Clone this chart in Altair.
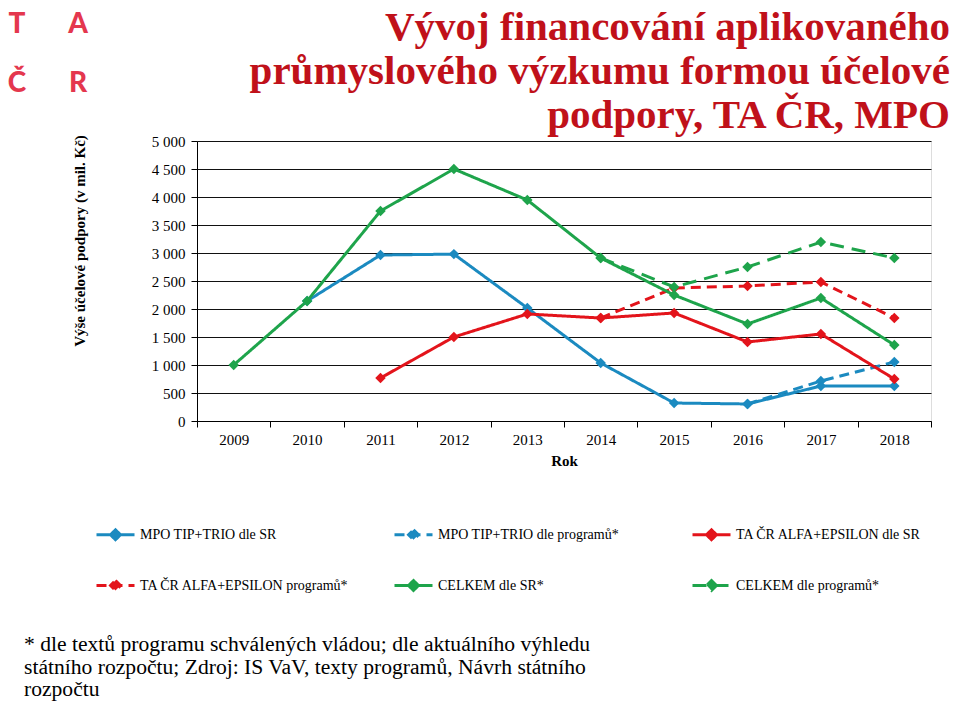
import altair as alt
import pandas as pd

years = ["2009", "2010", "2011", "2012", "2013", "2014", "2015", "2016", "2017", "2018"]

mpo_sr = [None, 2143, 2964, 2980, 2018, 1036, 321, 304, 625, 625]
mpo_prog = [None, None, None, None, None, None, None, 304, 714, 1054]
ta_sr = [None, None, 768, 1500, 1911, 1839, 1929, 1411, 1554, 750]
ta_prog = [None, None, None, None, None, 1839, 2375, 2411, 2482, 1839]
celkem_sr = [1000, 2143, 3750, 4500, 3946, 2911, 2250, 1732, 2196, 1357]
celkem_prog = [None, None, None, None, None, 2911, 2393, 2750, 3196, 2911]

series_names = [
    "MPO TIP+TRIO dle SR",
    "MPO TIP+TRIO dle programů*",
    "TA ČR ALFA+EPSILON dle SR",
    "TA ČR ALFA+EPSILON programů*",
    "CELKEM dle SR*",
    "CELKEM dle programů*",
]
series_values = [mpo_sr, mpo_prog, ta_sr, ta_prog, celkem_sr, celkem_prog]
series_colors = ["#1B8AC0", "#1B8AC0", "#E3141B", "#E3141B", "#1EA44B", "#1EA44B"]
series_dash = [[1, 0], [10, 6], [1, 0], [10, 6], [1, 0], [14, 8]]
series_width = [3, 3, 3, 3, 4.5, 4.5]

title_lines = [
    "Vývoj financování aplikovaného",
    "průmyslového výzkumu formou účelové",
    "podpory, TA ČR, MPO",
]
footnote_lines = [
    "* dle textů programu schválených vládou; dle aktuálního výhledu",
    "státního rozpočtu; Zdroj: IS VaV, texty programů, Návrh státního",
    "rozpočtu",
]
y_title = "Výše účelové podpory (v mil. Kč)"
x_title = "Rok"

rows = []
for name, vals in zip(series_names, series_values):
    for yr, v in zip(years, vals):
        if v is not None:
            rows.append({"Rok": yr, "value": v, "series": name})
df = pd.DataFrame(rows)

SERIF = "Liberation Serif"
TITLE_RED = "#C0111A"
LOGO_RED = "#E4374E"

legend_path = "M-1,0L1,0M0,-0.26L0.26,0L0,0.26L-0.26,0Z"

lines = alt.Chart(df).mark_line(
    point=alt.OverlayMarkDef(filled=True, shape="diamond", size=110, opacity=1)
).encode(
    x=alt.X("Rok:O", sort=years, title=x_title,
            scale=alt.Scale(paddingInner=0, paddingOuter=0),
            axis=alt.Axis(labelAngle=0, tickBand="extent", tickSize=6,
                          tickColor="#000", domainColor="#000",
                          labelFont=SERIF, labelFontSize=15, labelColor="#000",
                          labelPadding=5,
                          titleFont=SERIF, titleFontSize=15, titleFontWeight="bold",
                          titleColor="#000", titlePadding=6)),
    y=alt.Y("value:Q", title=None,
            scale=alt.Scale(domain=[0, 5000], nice=False),
            axis=alt.Axis(values=list(range(0, 5001, 500)),
                          labelExpr="replace(format(datum.value, ',d'), ',', ' ')",
                          tickSize=6, tickColor="#000", domainColor="#000",
                          gridColor="#111", gridWidth=1, gridOpacity=1,
                          labelFont=SERIF, labelFontSize=15, labelColor="#000",
                          labelPadding=6)),
    color=alt.Color("series:N", sort=series_names, title=None,
                    scale=alt.Scale(domain=series_names, range=series_colors),
                    legend=alt.Legend(
                        orient="none", legendX=-102, legendY=373,
                        direction="horizontal", columns=3, gridAlign="all",
                        columnPadding=38, rowPadding=19,
                        symbolType=legend_path, symbolSize=1444,
                        labelFont=SERIF, labelFontSize=14, labelColor="#000",
                        labelOffset=4, labelLimit=400, padding=0,
                        symbolOpacity=1)),
    strokeDash=alt.StrokeDash("series:N", sort=series_names,
                              scale=alt.Scale(domain=series_names, range=series_dash),
                              legend=None),
    strokeWidth=alt.StrokeWidth("series:N", sort=series_names,
                                scale=alt.Scale(domain=series_names, range=series_width),
                                legend=None),
)

base_text = alt.Chart(pd.DataFrame({"d": [0]}))

title_layers = [
    base_text.mark_text(text=t, font=SERIF, fontSize=41, fontWeight="bold",
                        color=TITLE_RED, align="right", baseline="alphabetic").encode(
        x=alt.value(753), y=alt.value(yy))
    for t, yy in zip(title_lines, [-101, -57, -13])
]

foot_layers = [
    base_text.mark_text(text=t, font=SERIF, fontSize=21.6, color="#000",
                        align="left", baseline="alphabetic").encode(
        x=alt.value(-173), y=alt.value(yy))
    for t, yy in zip(footnote_lines, [510, 533, 555])
]

ytitle_layer = base_text.mark_text(text=y_title, font=SERIF, fontSize=15,
                                   fontWeight="bold", color="#000", angle=270,
                                   align="center", baseline="middle").encode(
    x=alt.value(-117), y=alt.value(100))

logo_letters = ["T", "A", "Č", "R"]
logo_x = [-180, -119, -180, -119]
logo_y = [-108, -108, -49, -49]
logo_layers = [
    base_text.mark_text(text=ch, font="Lato", fontSize=28, fontWeight=900,
                        color=LOGO_RED, align="center", baseline="alphabetic").encode(
        x=alt.value(lx), y=alt.value(ly))
    for ch, lx, ly in zip(logo_letters, logo_x, logo_y)
]

chart = alt.layer(lines, *title_layers, *foot_layers, ytitle_layer, *logo_layers).properties(
    width=734, height=280,
    autosize=alt.AutoSizeParams(type="none"),
    padding={"left": 189, "top": 133, "right": 21, "bottom": 281},
).configure_view(stroke="#444", strokeWidth=1).configure(background="white")

chart.save("out.html", embed_options={"renderer": "svg", "actions": False})
